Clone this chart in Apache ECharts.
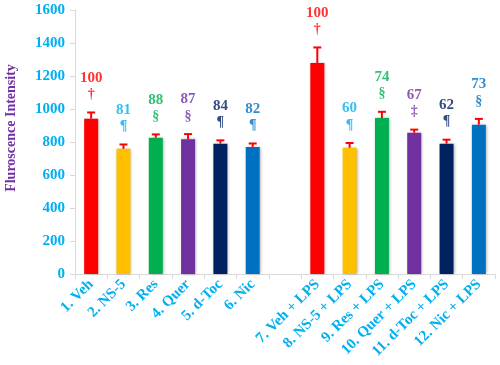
<!DOCTYPE html>
<html>
<head>
<meta charset="utf-8">
<script src="https://cdn.jsdelivr.net/npm/echarts@6/dist/echarts.min.js"></script>
<style>
  html, body { margin: 0; padding: 0; background: #fff; }
  #main { width: 500px; height: 365px; }
</style>
</head>
<body>
<div id="main"></div>
<script>
var categories = ['1. Veh', '2. NS-5', '3. Res', '4. Quer', '5. d-Toc', '6. Nic', '',
  '7. Veh + LPS', '8. NS-5 + LPS', '9. Res + LPS', '10. Quer + LPS', '11. d-Toc + LPS', '12. Nic + LPS'];
var means = [941, 759, 826, 816, 790, 770, '-', 1279, 765, 945, 856, 790, 905];
var errs = [38, 26, 20, 32, 20, 21, '-', 94, 29, 38, 19, 24, 35];
var pctLabels = ['100', '81', '88', '87', '84', '82', '', '100', '60', '74', '67', '62', '73'];
var sigLabels = ['†', '¶', '§', '§', '¶', '¶', '', '†', '¶', '§', '‡', '¶', '§'];
var yTicks = [0, 200, 400, 600, 800, 1000, 1200, 1400, 1600];

var barColors = ['#ff0000', '#ffc000', '#00b050', '#7030a0', '#002060', '#0070c0', '#fff',
  '#ff0000', '#ffc000', '#00b050', '#7030a0', '#002060', '#0070c0'];
var labelColors = ['#ff0000', '#00b0f0', '#00b050', '#7030a0', '#002060', '#0070c0', '#fff',
  '#ff0000', '#00b0f0', '#00b050', '#7030a0', '#002060', '#0070c0'];

var serif = '"Liberation Serif", "Times New Roman", serif';
var chart = echarts.init(document.getElementById('main'));

var barData = means.map(function (v, i) {
  return { value: v, itemStyle: { color: barColors[i] } };
});
var errData = means.map(function (v, i) {
  return v === '-' ? ['-', '-', '-'] : [i, v, v + errs[i]];
});
var labelData = means.map(function (v, i) {
  if (v === '-') return '-';
  return {
    value: v + errs[i],
    label: {
      formatter: '{a|' + pctLabels[i] + '}\n{b|' + sigLabels[i] + '}',
      color: labelColors[i]
    }
  };
});

var option = {
  animation: false,
  grid: { left: 75, right: 5, top: 10, bottom: 91, outerBoundsMode: 'none' },
  xAxis: {
    type: 'category',
    data: categories,
    axisLine: { lineStyle: { color: '#d9d9d9', width: 1 } },
    axisTick: { show: true, length: 5, lineStyle: { color: '#d9d9d9' } },
    axisLabel: {
      interval: 0,
      rotate: 45,
      margin: 8,
      color: '#00b0f0',
      fontFamily: serif,
      fontWeight: 'bold',
      fontSize: 15
    }
  },
  yAxis: {
    type: 'value',
    min: 0,
    max: 1600,
    interval: 200,
    name: 'Fluroscence Intensity',
    nameLocation: 'middle',
    nameGap: 57,
    nameTextStyle: {
      color: '#7030a0',
      fontFamily: serif,
      fontWeight: 'bold',
      fontSize: 14,
      padding: [0, 0, 0, 28]
    },
    axisLine: { show: true, lineStyle: { color: '#d9d9d9' } },
    axisTick: { show: true, length: 5, lineStyle: { color: '#d9d9d9' } },
    splitLine: { show: false },
    axisLabel: {
      margin: 10,
      color: '#00b0f0',
      fontFamily: serif,
      fontWeight: 'bold',
      fontSize: 15,
      formatter: function (v) { return String(v); },
      customValues: yTicks
    }
  },
  series: [
    {
      type: 'bar',
      barWidth: 14,
      data: barData,
      itemStyle: {
        shadowColor: 'rgba(0,0,0,0.35)',
        shadowBlur: 3,
        shadowOffsetX: 1,
        shadowOffsetY: 0
      }
    },
    {
      type: 'custom',
      data: errData,
      z: 5,
      renderItem: function (params, api) {
        if (api.value(1) === '-' || isNaN(api.value(1))) return;
        var base = api.coord([api.value(0), api.value(1)]);
        var top = api.coord([api.value(0), api.value(2)]);
        var style = { stroke: '#ff0000', lineWidth: 2 };
        return {
          type: 'group',
          children: [
            { type: 'line', shape: { x1: base[0], y1: base[1], x2: top[0], y2: top[1] }, style: style },
            { type: 'line', shape: { x1: top[0] - 4, y1: top[1], x2: top[0] + 4, y2: top[1] }, style: style }
          ]
        };
      }
    },
    {
      type: 'scatter',
      symbolSize: 0,
      data: labelData,
      z: 6,
      label: {
        show: true,
        position: 'top',
        distance: 10,
        fontFamily: serif,
        fontWeight: 'bold',
        rich: {
          a: { fontFamily: serif, fontWeight: 'bold', fontSize: 15, lineHeight: 17 },
          b: { fontFamily: serif, fontWeight: 'bold', fontSize: 14, lineHeight: 16 }
        }
      }
    }
  ]
};

chart.setOption(option);
</script>
</body>
</html>
